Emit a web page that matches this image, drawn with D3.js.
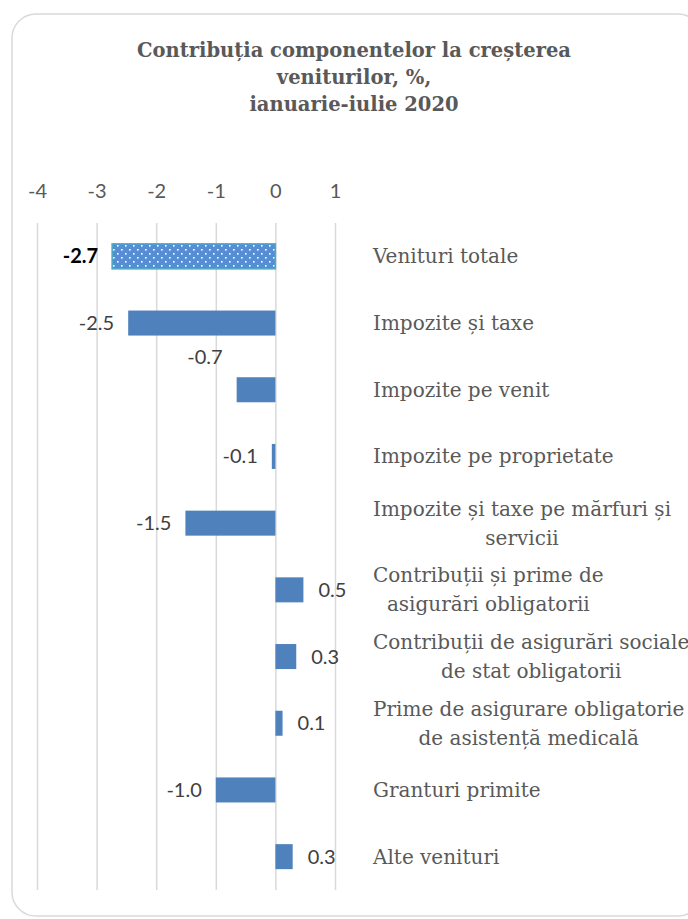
<!DOCTYPE html>
<html>
<head>
<meta charset="utf-8">
<script src="https://cdn.jsdelivr.net/npm/d3@7"></script>
<style>
  body { margin: 0; background: #fff; }
  svg { display: block; }
</style>
</head>
<body>
<svg width="688" height="919"></svg>
<script>
"use strict";

// data
var categories = [
    ["Venituri totale"],
    ["Impozite și taxe"],
    ["Impozite pe venit"],
    ["Impozite pe proprietate"],
    ["Impozite și taxe pe mărfuri și", "servicii"],
    ["Contribuții și prime de", "asigurări obligatorii"],
    ["Contribuții de asigurări sociale", "de stat obligatorii"],
    ["Prime de asigurare obligatorie", "de asistență medicală"],
    ["Granturi primite"],
    ["Alte venituri"]
];
var values = [-2.74, -2.47, -0.65, -0.06, -1.51, 0.47, 0.35, 0.12, -1.0, 0.29];
var tickValues = [-4, -3, -2, -1, 0, 1];
var titleLines = ["Contribuția componentelor la creșterea", "veniturilor, %,", "ianuarie-iulie 2020"];

var svg = d3.select("svg");

// chart frame
svg.append("rect")
    .attr("x", 12).attr("y", 14)
    .attr("width", 690).attr("height", 902)
    .attr("rx", 24).attr("ry", 24)
    .attr("fill", "#fff")
    .attr("stroke", "#d9d9d9")
    .attr("stroke-width", 1.5);

// dotted fill for the total bar
var defs = svg.append("defs");
var pat = defs.append("pattern")
    .attr("id", "dots")
    .attr("patternUnits", "userSpaceOnUse")
    .attr("width", 8).attr("height", 8);
pat.append("rect").attr("width", 8).attr("height", 8).attr("fill", "#558ed5");
pat.append("rect").attr("x", 1).attr("y", 1).attr("width", 1.6).attr("height", 1.6).attr("fill", "#fff");
pat.append("rect").attr("x", 5).attr("y", 5).attr("width", 1.6).attr("height", 1.6).attr("fill", "#fff");

// title
svg.append("text")
    .attr("text-anchor", "middle")
    .style("font-family", "'DejaVu Serif', serif")
    .style("font-weight", "bold")
    .style("font-size", "19.5px")
    .attr("fill", "#595959")
  .selectAll("tspan").data(titleLines).enter()
    .append("tspan")
    .attr("x", 354)
    .attr("y", function(d, i) { return 57 + i * 27; })
    .text(function(d) { return d; });

var plotTop = 223, plotBottom = 890;
var x = d3.scaleLinear().domain([-4, 1]).range([37, 335]);
var y = d3.scaleBand()
    .domain(d3.range(categories.length))
    .range([plotTop, plotBottom])
    .paddingInner(0.625)
    .paddingOuter(0.3125);

// gridlines
var grid = svg.append("g")
    .attr("transform", "translate(0," + plotTop + ")")
    .call(d3.axisBottom(x).tickValues(tickValues).tickSize(plotBottom - plotTop).tickFormat(""));
grid.select(".domain").remove();
grid.selectAll("line").attr("stroke", "#d9d9d9").attr("stroke-width", 1.5);

// tick labels (plain hyphen for the minus, as in the original)
var ax = svg.append("g")
    .attr("transform", "translate(0," + plotTop + ")")
    .call(d3.axisTop(x).tickValues(tickValues).tickSize(0).tickPadding(25)
        .tickFormat(function(d) { return String(d); }));
ax.select(".domain").remove();
ax.selectAll("text")
    .style("font-family", "Lato, sans-serif")
    .style("font-size", "20px")
    .attr("fill", "#595959");

// bars
svg.append("g").selectAll("rect").data(values).enter()
    .append("rect")
    .attr("x", function(d) { return x(Math.min(0, d)); })
    .attr("y", function(d, i) { return y(i); })
    .attr("width", function(d) { return Math.abs(x(d) - x(0)); })
    .attr("height", y.bandwidth())
    .attr("fill", function(d, i) { return i == 0 ? "url(#dots)" : "#4f81bd"; })
    .attr("stroke", function(d, i) { return i == 0 ? "#4bacc6" : "none"; })
    .attr("stroke-width", 1.5);

// value labels
svg.append("g").selectAll("text").data(values).enter()
    .append("text")
    .attr("x", function(d) { return d < 0 ? x(d) - 14 : x(d) + 15; })
    .attr("y", function(d, i) {
        // the -0.7 label was moved up by hand in the original
        return y(i) + y.bandwidth() / 2 + (i == 2 ? -33 : 0);
    })
    .attr("dy", "0.35em")
    .attr("text-anchor", function(d) { return d < 0 ? "end" : "start"; })
    .style("font-family", "Lato, sans-serif")
    .style("font-size", "20px")
    .style("font-weight", function(d, i) { return i == 0 ? "bold" : "normal"; })
    .attr("fill", function(d, i) { return i == 0 ? "#000" : "#404040"; })
    .text(function(d) { return d.toFixed(1); });

// category labels, lines centred on each other, block left aligned
var labelX = 373, lineH = 29;
svg.append("g").selectAll("text").data(categories).enter()
    .append("text")
    .style("font-family", "'DejaVu Serif', serif")
    .style("font-size", "20px")
    .attr("fill", "#595959")
    .each(function(lines, i) {
        var t = d3.select(this);
        var cy = y(i) + y.bandwidth() / 2;
        var spans = t.selectAll("tspan").data(lines).enter()
            .append("tspan")
            .attr("y", function(d, j) { return cy + (j - (lines.length - 1) / 2) * lineH; })
            .attr("dy", "0.35em")
            .text(function(d) { return d; });
        var w = 0;
        spans.each(function() { w = Math.max(w, this.getComputedTextLength()); });
        spans.attr("x", labelX + w / 2).attr("text-anchor", "middle");
    });
</script>
</body>
</html>
